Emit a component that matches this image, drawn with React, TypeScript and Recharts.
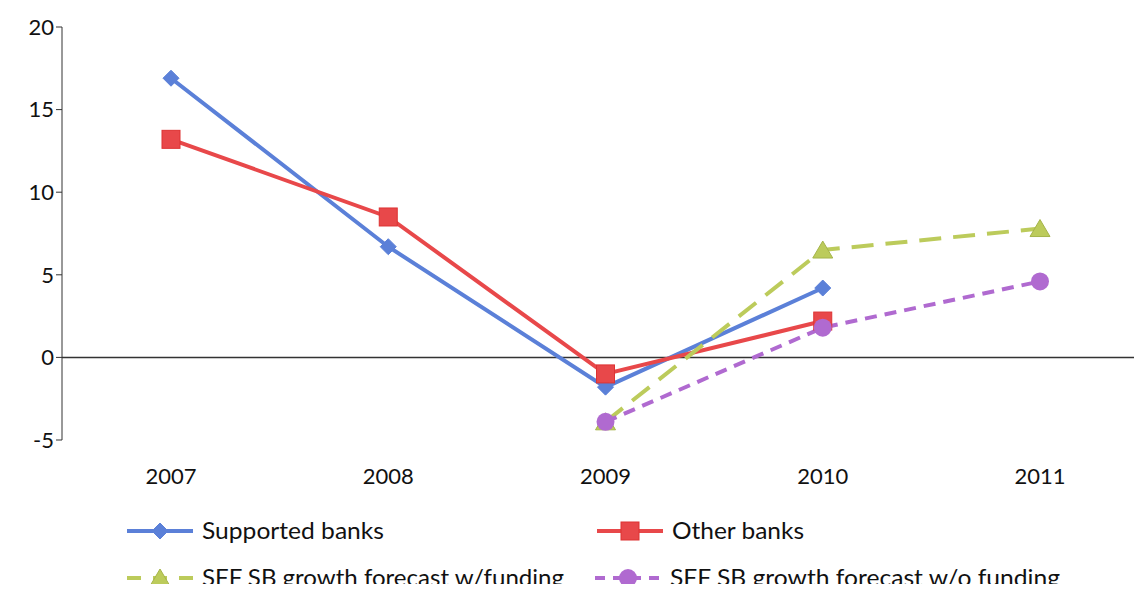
import { LineChart, Line, XAxis, YAxis, ReferenceLine } from "recharts";

const years = ["2007", "2008", "2009", "2010", "2011"];
const supported = [16.9, 6.7, -1.8, 4.2, null];
const other = [13.2, 8.5, -1.0, 2.2, null];
const withFunding = [null, null, -3.9, 6.5, 7.8];
const withoutFunding = [null, null, -3.9, 1.8, 4.6];
const yTicks = [-5, 0, 5, 10, 15, 20];

const data = years.map((year, i) => ({
  year,
  supported: supported[i],
  other: other[i],
  withFunding: withFunding[i],
  withoutFunding: withoutFunding[i],
}));

const BLUE = "#5b80d8";
const RED = "#e8484a";
const GREEN = "#bccb5b";
const PURPLE = "#b06ad0";
const FONT = "Lato, 'Open Sans', sans-serif";

const Diamond = ({ cx, cy, fill }: any) =>
  cx == null || cy == null ? null : (
    <path d={`M${cx},${cy - 8} L${cx + 8},${cy} L${cx},${cy + 8} L${cx - 8},${cy} Z`} fill={fill} stroke={fill} />
  );
const Square = ({ cx, cy, fill }: any) =>
  cx == null || cy == null ? null : <rect x={cx - 9} y={cy - 9} width={18} height={18} fill={fill} stroke="#d33" />;
const Triangle = ({ cx, cy, fill }: any) =>
  cx == null || cy == null ? null : (
    <path d={`M${cx},${cy - 9} L${cx + 10},${cy + 8} L${cx - 10},${cy + 8} Z`} fill={fill} stroke="#a5b44a" />
  );
const Circle = ({ cx, cy, fill }: any) =>
  cx == null || cy == null ? null : <circle cx={cx} cy={cy} r={9} fill={fill} />;

const LegendItem = ({ x, y, color, dash, marker, label, textWidth }: any) => (
  <g>
    <line x1={x} x2={x + 66} y1={y} y2={y} stroke={color} strokeWidth={4} strokeDasharray={dash} />
    {marker(x + 33, y, color)}
    <text x={x + 75} y={y + 8} fontSize={23} fontFamily={FONT} fill="#111"
      textLength={textWidth} lengthAdjust="spacingAndGlyphs">{label}</text>
  </g>
);

export default function App() {
  return (
    <div style={{ position: "relative", width: 1142, height: 592, margin: -8, background: "#fff", overflow: "hidden" }}>
      <LineChart width={1147} height={500} data={data} margin={{ top: 27, right: 0, bottom: 20, left: 0 }}>
        <XAxis
          dataKey="year"
          axisLine={false}
          tickLine={false}
          height={40}
          padding={{ left: 109, right: 107 }}
          tick={{ fontSize: 22, fill: "#111", fontFamily: FONT }}
          tickMargin={22}
        />
        <YAxis
          width={62}
          domain={[-5, 20]}
          ticks={yTicks}
          stroke="#333"
          tickSize={6}
          tick={{ fontSize: 22, fill: "#111", fontFamily: FONT }}
        />
        <ReferenceLine y={0} stroke="#333" strokeWidth={1.5} />
        <Line dataKey="supported" stroke={BLUE} strokeWidth={4} dot={<Diamond fill={BLUE} />} isAnimationActive={false} />
        <Line dataKey="other" stroke={RED} strokeWidth={4} dot={<Square fill={RED} />} isAnimationActive={false} />
        <Line dataKey="withFunding" stroke={GREEN} strokeWidth={4} strokeDasharray="22 12" dot={<Triangle fill={GREEN} />} isAnimationActive={false} />
        <Line dataKey="withoutFunding" stroke={PURPLE} strokeWidth={4} strokeDasharray="12 8" dot={<Circle fill={PURPLE} />} isAnimationActive={false} />
      </LineChart>
      <svg width={1142} height={92} style={{ position: "absolute", left: 0, top: 500 }}>
        <LegendItem x={127} y={31} color={BLUE} label="Supported banks" textWidth={182}
          marker={(cx: number, cy: number, c: string) => <Diamond cx={cx} cy={cy} fill={c} />} />
        <LegendItem x={597} y={31} color={RED} label="Other banks" textWidth={132}
          marker={(cx: number, cy: number, c: string) => <Square cx={cx} cy={cy} fill={c} />} />
        <LegendItem x={127} y={78} color={GREEN} dash="14 12" label="SFF SB growth forecast w/funding" textWidth={362}
          marker={(cx: number, cy: number, c: string) => <Triangle cx={cx} cy={cy} fill={c} />} />
        <LegendItem x={595} y={78} color={PURPLE} dash="10 8" label="SFF SB growth forecast w/o funding" textWidth={390}
          marker={(cx: number, cy: number, c: string) => <Circle cx={cx} cy={cy} fill={c} />} />
      </svg>
    </div>
  );
}
